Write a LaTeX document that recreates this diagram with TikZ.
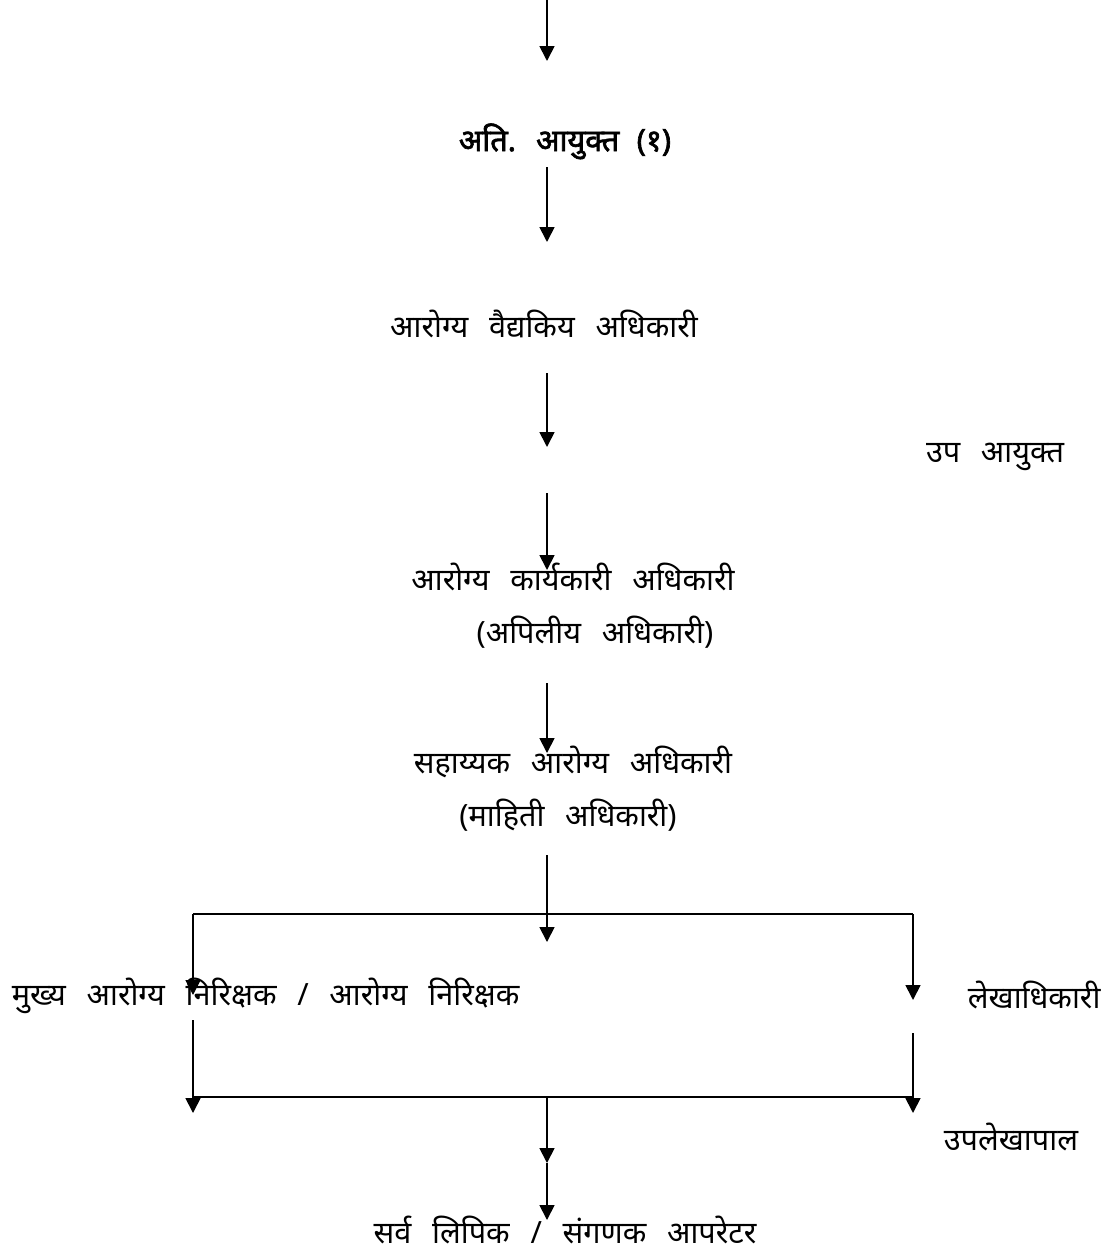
\documentclass[tikz,border=0pt]{standalone}
\usepackage{fontspec}
\setmainfont{Liberation Sans}
\newfontfamily\deva[Script=Devanagari, WordSpace=2.6]{Noto Sans}
\newfontfamily\devab[Script=Devanagari, WordSpace=2.2, FakeBold=2.2]{Noto Sans}
\usetikzlibrary{arrows.meta}
\begin{document}
\begin{tikzpicture}[x=0.75pt,y=-0.75pt, line width=1.3pt,
  lbl/.style={font=\deva\fontsize{23}{27}\selectfont, inner sep=0pt},
  ttl/.style={font=\devab\fontsize{23}{27}\selectfont, inner sep=0pt},
  arr/.style={-{Triangle[width=11.25pt,length=11.25pt]}}]
\useasboundingbox (0,0) rectangle (1111,1254);
% nodes
\node[ttl, anchor=base] (ati) at (565,151) {अति. आयुक्त (१)};
\node[lbl, anchor=base] (ava) at (544,337) {आरोग्य वैद्यकिय अधिकारी};
\node[lbl, anchor=base] (upa) at (995,462) {उप आयुक्त};
\node[lbl, anchor=base] (aka) at (573,590) {आरोग्य कार्यकारी अधिकारी};
\node[lbl, anchor=base] (api) at (595,643) {(अपिलीय अधिकारी)};
\node[lbl, anchor=base] (saa) at (573,773) {सहाय्यक आरोग्य अधिकारी};
\node[lbl, anchor=base] (mah) at (568,826) {(माहिती अधिकारी)};
\node[lbl, anchor=base west] (mukh) at (11,1005) {मुख्य आरोग्य निरिक्षक / आरोग्य निरिक्षक};
\node[lbl, anchor=base west] (lekh) at (967,1008) {लेखाधिकारी};
\node[lbl, anchor=base west] (upl) at (943,1150) {उपलेखापाल};
\node[lbl, anchor=base] (sarva) at (565,1243) {सर्व लिपिक / संगणक आपरेटर};
% coordinates
\coordinate (a0) at (547,0);    \coordinate (a1) at (547,61);
\coordinate (b0) at (547,167);  \coordinate (b1) at (547,242);
\coordinate (c0) at (547,373);  \coordinate (c1) at (547,447);
\coordinate (d0) at (547,493);  \coordinate (d1) at (547,570);
\coordinate (e0) at (547,683);  \coordinate (e1) at (547,753);
\coordinate (f0) at (547,855);  \coordinate (f1) at (547,942);
\coordinate (tl) at (193,914);  \coordinate (tr) at (913,914);
\coordinate (lt) at (193,995);  \coordinate (rt) at (913,1000);
\coordinate (lb0) at (193,1020); \coordinate (lb1) at (193,1113);
\coordinate (rb0) at (913,1033); \coordinate (rb1) at (913,1113);
\coordinate (bl) at (193,1097); \coordinate (br) at (913,1097);
\coordinate (bm) at (547,1097); \coordinate (g1) at (547,1163);
\coordinate (g2) at (547,1220);
% connectors
\draw[arr] (a0) -- (a1);
\draw[arr] (b0) -- (b1);
\draw[arr] (c0) -- (c1);
\draw[arr] (d0) -- (d1);
\draw[arr] (e0) -- (e1);
\draw[arr] (f0) -- (f1);
\draw (tl) -- (tr);
\draw[arr] (tl) -- (lt);
\draw[arr] (tr) -- (rt);
\draw[arr] (lb0) -- (lb1);
\draw[arr] (rb0) -- (rb1);
\draw (bl) -- (br);
\draw[arr] (bm) -- (g1);
\draw[arr] (g1) -- (g2);
\end{tikzpicture}
\end{document}
